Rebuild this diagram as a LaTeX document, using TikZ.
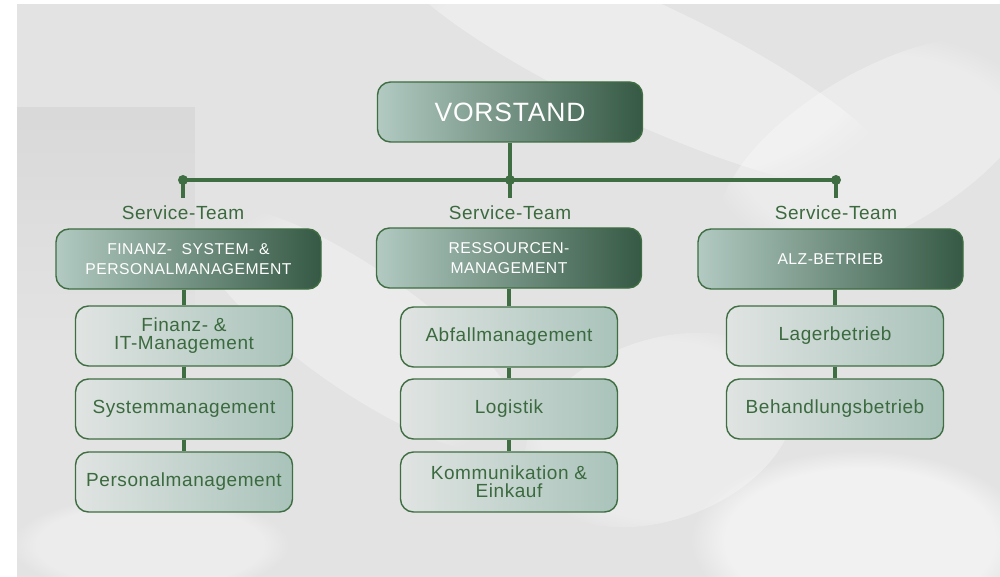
\documentclass[tikz,border=0pt]{standalone}
\usepackage{fontspec}
\setmainfont{Liberation Sans}[LetterSpace=3]
\usetikzlibrary{fadings}
\definecolor{bggray}{HTML}{E3E3E3}
\definecolor{bgdark}{HTML}{D9D9D9}
\definecolor{lineg}{HTML}{3F6E42}
\definecolor{textg}{HTML}{3B6A3F}
\definecolor{topl}{HTML}{B2CAC2}
\definecolor{topr}{HTML}{355944}
\definecolor{chl}{HTML}{E0E4E2}
\definecolor{chr}{HTML}{A9C3BA}
\tikzset{
  headbox/.style={rounded corners=13pt, draw=lineg, line width=1.4pt,
    left color=topl, right color=topr, text=white, align=center,
    minimum width=265pt, minimum height=60pt, inner sep=0pt},
  childbox/.style={rounded corners=13pt, draw=lineg, line width=1.4pt,
    left color=chl, right color=chr, text=textg, align=center,
    minimum width=217pt, minimum height=60pt, inner sep=0pt,
    font=\fontsize{19}{18}\selectfont},
  teamlabel/.style={text=textg, anchor=base, inner sep=0pt,
    font=\fontsize{19}{22}\selectfont},
  conn/.style={draw=lineg, line width=3.5pt},
  jdot/.style={fill=lineg}
}
\begin{document}
\begin{tikzpicture}[x=1pt,y=-1pt]
\useasboundingbox (0,0) rectangle (1000,577);
% background
\fill[white] (0,0) rectangle (1000,577);
\fill[bggray] (17,4) rectangle (1000,577);
\fill[bgdark, path fading=south] (17,107) rectangle (195,340);
\fill[white, opacity=0.35, path fading=circle with fuzzy edge 20 percent, rotate around={-25:(640,60)}] (640,60) ellipse [x radius=280pt, y radius=60pt];
\fill[white, opacity=0.3, path fading=circle with fuzzy edge 20 percent, rotate around={30:(880,150)}] (880,150) ellipse [x radius=180pt, y radius=80pt];
\fill[white, opacity=0.5, path fading=circle with fuzzy edge 20 percent] (860,540) ellipse [x radius=170pt, y radius=90pt];
\fill[white, opacity=0.3, path fading=circle with fuzzy edge 20 percent, rotate around={-35:(360,330)}] (360,330) ellipse [x radius=200pt, y radius=60pt];
\fill[white, opacity=0.35, path fading=circle with fuzzy edge 20 percent] (150,545) ellipse [x radius=140pt, y radius=50pt];
\fill[white, opacity=0.3, path fading=circle with fuzzy edge 20 percent, rotate around={20:(660,430)}] (660,430) ellipse [x radius=140pt, y radius=90pt];

% junction coordinates
\coordinate (ja) at (183,180);
\coordinate (jb) at (510,180);
\coordinate (jc) at (836,180);
\coordinate (ta) at (183,198);
\coordinate (tb) at (510,198);
\coordinate (tc) at (836,198);

% nodes
\node[headbox, font=\fontsize{26.5}{30}\selectfont] (vs) at (510,112) {VORSTAND};

\node[teamlabel] (sa) at (183,219) {Service-Team};
\node[teamlabel] (sb) at (510,219) {Service-Team};
\node[teamlabel] (sc) at (836,219) {Service-Team};

\node[headbox, font=\fontsize{15.7}{20}\selectfont] (fa) at (188.5,259) {FINANZ-\ \ SYSTEM- \&\\PERSONALMANAGEMENT};
\node[headbox, font=\fontsize{15.7}{20}\selectfont] (fb) at (509,258) {RESSOURCEN-\\MANAGEMENT};
\node[headbox, font=\fontsize{15.7}{20}\selectfont] (fc) at (830.5,259) {ALZ-BETRIEB};

\node[childbox] (a1) at (184,336) {Finanz- \&\\IT-Management};
\node[childbox] (a2) at (184,409) {Systemmanagement};
\node[childbox] (a3) at (184,482) {Personalmanagement};

\node[childbox] (b1) at (509,337) {Abfallmanagement};
\node[childbox] (b2) at (509,409) {Logistik};
\node[childbox] (b3) at (509,482) {Kommunikation \&\\Einkauf};

\node[childbox] (c1) at (835,336) {Lagerbetrieb};
\node[childbox] (c2) at (835,409) {Behandlungsbetrieb};

% connectors
\draw[conn] (vs.south) -- (jb);
\draw[conn] (ja) -- (jc);
\draw[conn] (ja) -- (ta);
\draw[conn] (jb) -- (tb);
\draw[conn] (jc) -- (tc);
\fill[jdot] (ja) circle (5pt);
\fill[jdot] (jb) circle (5pt);
\fill[jdot] (jc) circle (5pt);

\draw[conn] (a1.north |- fa.south) -- (a1.north);
\draw[conn] (a1.south) -- (a2.north);
\draw[conn] (a2.south) -- (a3.north);
\draw[conn] (b1.north |- fb.south) -- (b1.north);
\draw[conn] (b1.south) -- (b2.north);
\draw[conn] (b2.south) -- (b3.north);
\draw[conn] (c1.north |- fc.south) -- (c1.north);
\draw[conn] (c1.south) -- (c2.north);
\end{tikzpicture}
\end{document}
